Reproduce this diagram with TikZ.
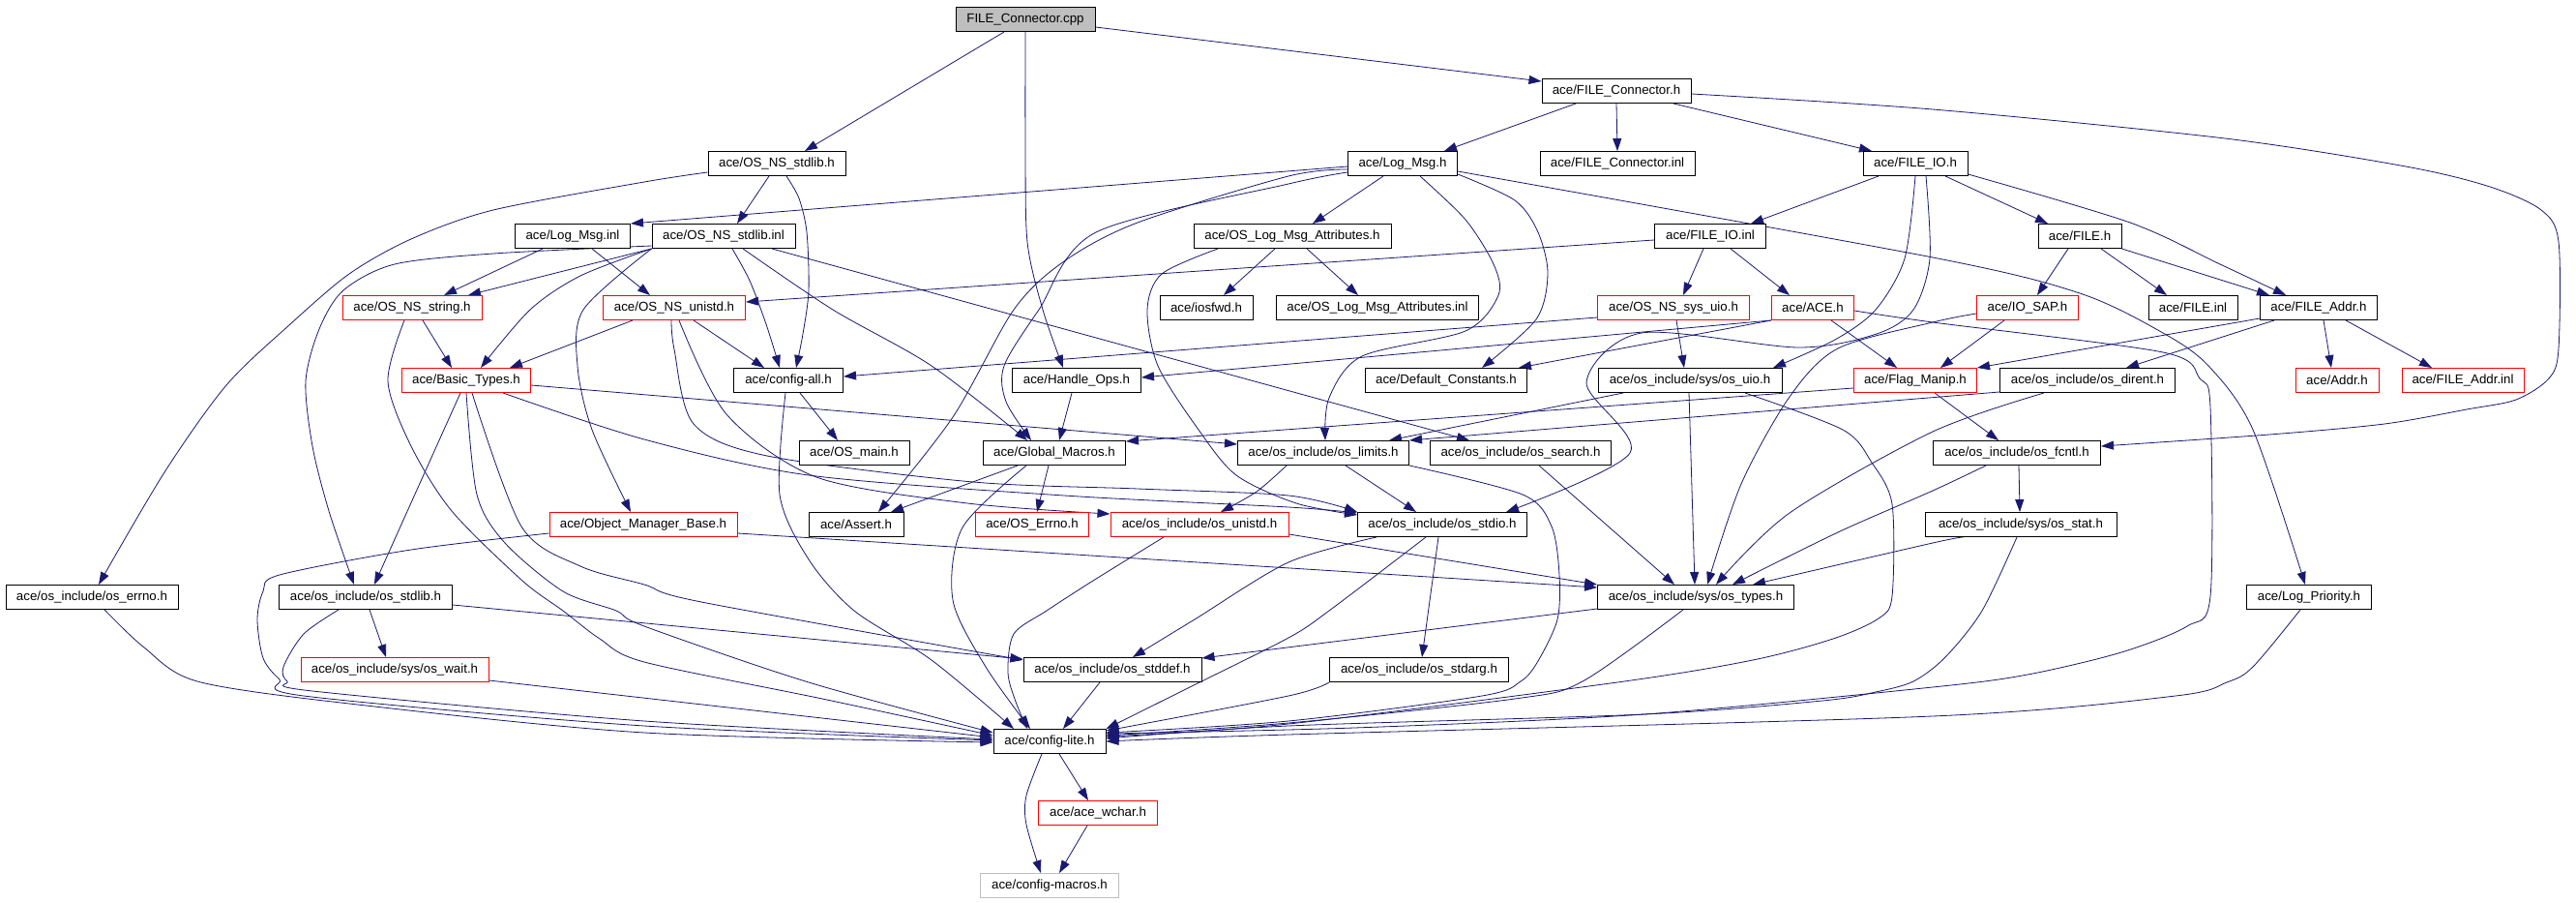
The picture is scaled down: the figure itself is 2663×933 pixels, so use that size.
\documentclass[tikz,border=0pt]{standalone}
\usepackage{fontspec}
\setmainfont{Liberation Sans}
\usetikzlibrary{arrows.meta}
\definecolor{edgeblue}{HTML}{191970}
\definecolor{rootgrey}{HTML}{BFBFBF}
\definecolor{lightgrey}{HTML}{BFBFBF}
\pgfdeclarelayer{bg}
\pgfdeclarelayer{edges}
\pgfsetlayers{bg,edges,main}
\begin{document}
\begin{tikzpicture}[x=1pt,y=-1pt,
  nd/.style={draw=black, line width=1pt, fill=white, inner sep=0pt, minimum height=25pt, font=\fontsize{13.3}{15}\selectfont},
  rd/.style={nd, draw=red},
  e/.style={draw=edgeblue, line width=0.8pt, -{Triangle[length=13pt,width=9pt]}},
]
\useasboundingbox (0,0) rectangle (2663,933);
% nodes
\node[nd, fill=rootgrey, minimum width=144pt] (cpp) at (1060,20) {FILE\_Connector.cpp};
\node[nd, minimum width=154pt] (fch) at (1671,94) {ace/FILE\_Connector.h};
\node[nd, minimum width=142pt] (nsstdlibh) at (803,169) {ace/OS\_NS\_stdlib.h};
\node[nd, minimum width=113pt] (logmsgh) at (1450,169) {ace/Log\_Msg.h};
\node[nd, minimum width=160pt] (fcinl) at (1672,169) {ace/FILE\_Connector.inl};
\node[nd, minimum width=108pt] (fileioh) at (1980,169) {ace/FILE\_IO.h};
\node[nd, minimum width=119pt] (logmsginl) at (592,244) {ace/Log\_Msg.inl};
\node[nd, minimum width=148pt] (nsstdlibinl) at (748,244) {ace/OS\_NS\_stdlib.inl};
\node[nd, minimum width=204pt] (logattrh) at (1336,244) {ace/OS\_Log\_Msg\_Attributes.h};
\node[nd, minimum width=115pt] (fileioinl) at (1768,244) {ace/FILE\_IO.inl};
\node[nd, minimum width=86pt] (fileh) at (2150,244) {ace/FILE.h};
\node[rd, minimum width=144pt] (nsstring) at (426,318) {ace/OS\_NS\_string.h};
\node[rd, minimum width=147pt] (nsunistd) at (697,318) {ace/OS\_NS\_unistd.h};
\node[nd, minimum width=96pt] (iosfwd) at (1247,318) {ace/iosfwd.h};
\node[nd, minimum width=209pt] (logattrinl) at (1424,318) {ace/OS\_Log\_Msg\_Attributes.inl};
\node[rd, minimum width=157pt] (nssysuio) at (1730,318) {ace/OS\_NS\_sys\_uio.h};
\node[rd, minimum width=85pt] (aceh) at (1874,318) {ace/ACE.h};
\node[rd, minimum width=105pt] (iosap) at (2096,318) {ace/IO\_SAP.h};
\node[nd, minimum width=92pt] (fileinl) at (2267,318) {ace/FILE.inl};
\node[nd, minimum width=121pt] (fileaddrh) at (2397,318) {ace/FILE\_Addr.h};
\node[rd, minimum width=133pt] (basictypes) at (482,393) {ace/Basic\_Types.h};
\node[nd, minimum width=113pt] (configall) at (815,393) {ace/config-all.h};
\node[nd, minimum width=133pt] (handleops) at (1113,393) {ace/Handle\_Ops.h};
\node[nd, minimum width=167pt] (defconst) at (1495,393) {ace/Default\_Constants.h};
\node[nd, minimum width=190pt] (osuio) at (1747,393) {ace/os\_include/sys/os\_uio.h};
\node[rd, minimum width=127pt] (flagmanip) at (1980,393) {ace/Flag\_Manip.h};
\node[nd, minimum width=181pt] (osdirent) at (2158,393) {ace/os\_include/os\_dirent.h};
\node[rd, minimum width=86pt] (addrh) at (2416,393) {ace/Addr.h};
\node[rd, minimum width=126pt] (fileaddrinl) at (2546,393) {ace/FILE\_Addr.inl};
\node[nd, minimum width=114pt] (osmain) at (883,468) {ace/OS\_main.h};
\node[nd, minimum width=147pt] (globalmacros) at (1090,468) {ace/Global\_Macros.h};
\node[nd, minimum width=177pt] (oslimits) at (1368,468) {ace/os\_include/os\_limits.h};
\node[nd, minimum width=187pt] (ossearch) at (1572,468) {ace/os\_include/os\_search.h};
\node[nd, minimum width=173pt] (osfcntl) at (2085,468) {ace/os\_include/os\_fcntl.h};
\node[rd, minimum width=194pt] (objmgr) at (665,542) {ace/Object\_Manager\_Base.h};
\node[nd, minimum width=98pt] (assert) at (885,542) {ace/Assert.h};
\node[rd, minimum width=117pt] (oserrno) at (1067,542) {ace/OS\_Errno.h};
\node[rd, minimum width=184pt] (osunistd) at (1240,542) {ace/os\_include/os\_unistd.h};
\node[nd, minimum width=175pt] (osstdio) at (1491,542) {ace/os\_include/os\_stdio.h};
\node[nd, minimum width=198pt] (osstat) at (2089,542) {ace/os\_include/sys/os\_stat.h};
\node[nd, minimum width=178pt] (oserrnoh) at (95,617) {ace/os\_include/os\_errno.h};
\node[nd, minimum width=179pt] (osstdlib) at (378,617) {ace/os\_include/os\_stdlib.h};
\node[nd, minimum width=203pt] (ostypes) at (1753,617) {ace/os\_include/sys/os\_types.h};
\node[nd, minimum width=129pt] (logprio) at (2387,617) {ace/Log\_Priority.h};
\node[rd, minimum width=194pt] (oswait) at (408,692) {ace/os\_include/sys/os\_wait.h};
\node[nd, minimum width=184pt] (osstddef) at (1150,692) {ace/os\_include/os\_stddef.h};
\node[nd, minimum width=185pt] (osstdarg) at (1467,692) {ace/os\_include/os\_stdarg.h};
\node[nd, minimum width=116pt] (configlite) at (1085,766) {ace/config-lite.h};
\node[rd, minimum width=123pt] (acewchar) at (1135,840) {ace/ace\_wchar.h};
\node[nd, draw=lightgrey, minimum width=143pt] (configmacros) at (1085,915) {ace/config-macros.h};

\begin{pgfonlayer}{bg}
\fill[white] (0,0) rectangle (2663,933);
\end{pgfonlayer}

\begin{pgfonlayer}{edges}
% top
\draw[e] (cpp.south -| 1038,0) -- (nsstdlibh.north -| 832,0);
\draw[e] plot[smooth] coordinates {(cpp.south) (1060,150) (1062,250) (1078,320) (handleops.north -| 1099,0)};
\draw[e] (cpp.east |- 0,28) -- (fch.west |- 0,84);
\draw[e] (fch.south -| 1629,0) -- (logmsgh.north -| 1493,0);
\draw[e] (fch.south) -- (fcinl.north);
\draw[e] (fch.south -| 1730,0) -- (fileioh.north -| 1935,0);
\draw[e] plot[smooth] coordinates {(fch.east |- 0,97) (1998,113) (2300,143) (2487,172) (2574,193) (2627,217) (2645,250) (2645,360) (2635,391) (2601,413) (2550,423) (2465,438) (2346,449) (osfcntl.east |- 0,461)};
% OS_NS_stdlib
\draw[e] (nsstdlibh.south -| 795,0) -- (nsstdlibinl.north -| 762,0);
\draw[e] plot[smooth] coordinates {(nsstdlibh.south -| 813,0) (826,205) (834,240) (836,300) (830,345) (configall.north -| 823,0)};
\draw[e] plot[smooth] coordinates {(nsstdlibinl.south -| 757,0) (775,290) (792,335) (configall.north -| 806,0)};
\draw[e] (nsunistd.south -| 717,0) -- (configall.north -| 790,0);
\draw[e] plot[smooth] coordinates {(nsstdlibh.west |- 0,178) (666,188) (510,217) (425,247) (361,283) (300,335) (234,398) (170,488) (oserrnoh.north -| 102,0)};
\draw[e] plot[smooth] coordinates {(nsstdlibinl.west |- 0,254) (510,262) (408,273) (355,300) (330,340) (316,394) (323,461) (340,528) (osstdlib.north -| 366,0)};
% Log_Msg.h
\draw[e] (logmsgh.west |- 0,172) -- (logmsginl.north east);
\draw[e] plot[smooth] coordinates {(logmsgh.west |- 0,175) (1332,182) (1176,230) (1100,270) (1048,320) (985,431) (assert.north -| 908,0)};
\draw[e] plot[smooth] coordinates {(logmsgh.west |- 0,178) (1332,190) (1133,240) (1074,320) (1038,378) (1040,415) (globalmacros.north -| 1066,0)};
\draw[e] (logmsgh.south -| 1430,0) -- (logattrh.north -| 1357,0);
\draw[e] plot[smooth] coordinates {(logmsgh.east |- 0,180) (1566,207) (1590,240) (1600,283) (1588,330) (defconst.north -| 1532,0)};
\draw[e] plot[smooth] coordinates {(logmsgh.south -| 1468,0) (1515,227) (1544,273) (1549,305) (1515,342) (1408,368) (1374,411) (oslimits.north -| 1370,0)};
\draw[e] plot[smooth] coordinates {(logmsgh.east |- 0,177) (1998,266) (2150,303) (2236,344) (2283,378) (2329,444) (logprio.north -| 2383,0)};
% OS_Log_Msg_Attributes
\draw[e] (logattrh.south -| 1318,0) -- (iosfwd.north -| 1265,0);
\draw[e] (logattrh.south -| 1351,0) -- (logattrinl.north -| 1404,0);
\draw[e] plot[smooth] coordinates {(logattrh.south -| 1259,0) (1201,283) (1186,320) (1197,378) (1239,444) (1278,491) (1340,520) (osstdio.west |- 0,532)};
% FILE_IO.h
\draw[e] plot[smooth] coordinates {(fileioh.south -| 1942,0) (1880,205) (fileioinl.north -| 1810,0)};
\draw[e] (fileioh.south -| 2011,0) -- (fileh.north -| 2117,0);
\draw[e] plot[smooth] coordinates {(fileioh.east |- 0,180) (2202,230) (2295,273) (fileaddrh.north -| 2363,0)};
\draw[e] plot[smooth] coordinates {(fileioh.south -| 1980,0) (1969,267) (1939,320) (1897,351) (osuio.north -| 1833,0)};
\draw[e] plot[smooth] coordinates {(fileioh.south -| 1991,0) (1995,267) (1978,320) (1940,345) (1859,359) (1697,344) (1640,395) (1685,468) (osstdio.north -| 1557,0)};
% FILE_IO.inl
\draw[e] (fileioinl.west |- 0,248) -- (nsunistd.east |- 0,312);
\draw[e] (fileioinl.south -| 1761,0) -- (nssysuio.north -| 1740,0);
\draw[e] (fileioinl.south -| 1789,0) -- (aceh.north -| 1850,0);
% FILE.h
\draw[e] (fileh.south -| 2138,0) -- (iosap.north -| 2106,0);
\draw[e] (fileh.south -| 2172,0) -- (fileinl.north -| 2240,0);
\draw[e] (fileh.south east) -- (fileaddrh.north -| 2346,0);
% FILE_Addr.h
\draw[e] (fileaddrh.south -| 2402,0) -- (addrh.north -| 2410,0);
\draw[e] (fileaddrh.south -| 2425,0) -- (fileaddrinl.north -| 2514,0);
\draw[e] (fileaddrh.south -| 2351,0) -- (osdirent.north -| 2198,0);
\draw[e] (fileaddrh.west |- 0,329) -- (flagmanip.north east);
% IO_SAP, ACE
\draw[e] (iosap.south -| 2072,0) -- (flagmanip.north -| 2006,0);
\draw[e] plot[smooth] coordinates {(iosap.west |- 0,324) (1998,333) (1900,360) (1850,410) (1800,500) (ostypes.north -| 1765,0)};
\draw[e] (aceh.south -| 1893,0) -- (flagmanip.north -| 1961,0);
\draw[e] (aceh.south west) -- (defconst.north -| 1570,0);
\draw[e] (aceh.south west) -- (handleops.east |- 0,390);
\draw[e] plot[smooth] coordinates {(aceh.east |- 0,321) (1998,333) (2236,364) (2274,391) (2285,421) (2285,616) (2261,647) (2193,674) (2096,697) (1998,710) (1700,738) (1400,752) (configlite.east |- 0,758)};
\draw[e] (nssysuio.south -| 1733,0) -- (osuio.north -| 1741,0);
\draw[e] (nssysuio.west |- 0,328) -- (configall.east |- 0,389);
% middle left
\draw[e] (nsunistd.south -| 654,0) -- (basictypes.north -| 527,0);
\draw[e] (nsstring.south -| 437,0) -- (basictypes.north -| 467,0);
\draw[e] plot[smooth] coordinates {(nsstdlibinl.south west) (600,285) (548,320) (basictypes.north -| 497,0)};
\draw[e] (nsstdlibinl.south west) -- (nsstring.north -| 484,0);
\draw[e] (logmsginl.south -| 561,0) -- (nsstring.north -| 459,0);
\draw[e] (logmsginl.south -| 612,0) -- (nsunistd.north -| 672,0);
\draw[e] plot[smooth] coordinates {(nsstdlibinl.south -| 768,0) (861,320) (963,378) (globalmacros.north -| 1062,0)};
\draw[e] (nsstdlibinl.south -| 798,0) -- (ossearch.north -| 1519,0);
\draw[e] plot[smooth] coordinates {(nsstdlibinl.south west) (603,320) (597,378) (612,444) (objmgr.north -| 652,0)};
\draw[e] (configall.south -| 827,0) -- (osmain.north -| 866,0);
\draw[e] plot[smooth] coordinates {(configall.south -| 812,0) (806,511) (836,578) (883,631) (963,682) (configlite.north -| 1048,0)};
\draw[e] (handleops.south -| 1108,0) -- (globalmacros.north -| 1095,0);
\draw[e] (globalmacros.south -| 1052,0) -- (assert.north -| 921,0);
\draw[e] (globalmacros.south -| 1084,0) -- (oserrno.north -| 1072,0);
\draw[e] plot[smooth] coordinates {(globalmacros.south -| 1061,0) (995,545) (985,620) (1019,689) (configlite.north -| 1065,0)};
\draw[e] (basictypes.east |- 0,398) -- (oslimits.west |- 0,459);
\draw[e] (basictypes.south -| 476,0) -- (osstdlib.north -| 387,0);
\draw[e] plot[smooth] coordinates {(basictypes.south -| 520,0) (666,454) (836,491) (1100,512) (1332,524) (osstdio.west |- 0,530)};
\draw[e] plot[smooth] coordinates {(nsunistd.south -| 702,0) (751,428) (844,493) (1000,520) (osunistd.west |- 0,531)};
\draw[e] plot[smooth] coordinates {(nsunistd.south -| 694,0) (697,361) (717,438) (793,471) (1006,498) (1176,505) (1332,512) (osstdio.north west)};
\draw[e] plot[smooth] coordinates {(nsstring.south -| 418,0) (401,394) (425,461) (467,528) (540,600) (582,631) (620,660) (666,684) (850,722) (configlite.west |- 0,760)};
\draw[e] plot[smooth] coordinates {(basictypes.south -| 482,0) (493,511) (522,561) (582,611) (637,631) (666,647) (836,705) (configlite.west |- 0,757)};
\draw[e] plot[smooth] coordinates {(basictypes.south -| 488,0) (539,544) (600,585) (666,604) (725,622) (osstddef.west |- 0,682)};
% lower left
\draw[e] plot[smooth] coordinates {(osstdlib.south -| 350,0) (314,655) (293,689) (297,704) (323,714) (666,745) (configlite.west |- 0,764)};
\draw[e] plot[smooth] coordinates {(oserrnoh.south -| 108,0) (149,669) (204,704) (361,727) (666,757) (configlite.west |- 0,767)};
\draw[e] plot[smooth] coordinates {(objmgr.west |- 0,551) (425,568) (289,594) (272,611) (266,640) (272,680) (289,702) (314,719) (666,750) (configlite.west |- 0,765)};
\draw[e] (oswait.east |- 0,703) -- (configlite.west |- 0,762);
\draw[e] (osstdlib.south -| 382,0) -- (oswait.north -| 399,0);
\draw[e] (osstdlib.east |- 0,625) -- (osstddef.west |- 0,681);
\draw[e] (objmgr.east |- 0,551) -- (ostypes.west |- 0,607);
% lower middle
\draw[e] (osunistd.east |- 0,552) -- (ostypes.west |- 0,604);
\draw[e] plot[smooth] coordinates {(osunistd.south -| 1203,0) (1130,600) (1082,631) (1048,655) (1042,695) (1050,725) (configlite.north -| 1062,0)};
\draw[e] plot[smooth] coordinates {(oslimits.south -| 1330,0) (1299,508) (osunistd.north -| 1262,0)};
\draw[e] (oslimits.south -| 1391,0) -- (osstdio.north -| 1464,0);
\draw[e] plot[smooth] coordinates {(oslimits.south east) (1574,511) (1604,544) (1612,594) (1610,640) (1590,683) (1572,704) (1532,719) (1332,745) (configlite.east |- 0,757)};
\draw[e] (ossearch.south -| 1591,0) -- (ostypes.north -| 1731,0);
\draw[e] plot[smooth] coordinates {(osstdio.south -| 1423,0) (1332,581) (1235,640) (osstddef.north -| 1171,0)};
\draw[e] (ostypes.west |- 0,629) -- (osstddef.east |- 0,680);
\draw[e] (osstdio.south -| 1487,0) -- (osstdarg.north -| 1470,0);
\draw[e] plot[smooth] coordinates {(osstdio.south -| 1474,0) (1374,631) (1332,659) (1230,710) (configlite.east |- 0,753)};
\draw[e] plot[smooth] coordinates {(osstdarg.south west) (1332,719) (configlite.east |- 0,755)};
\draw[e] (osstddef.south -| 1137,0) -- (configlite.north -| 1099,0);
\draw[e] plot[smooth] coordinates {(ostypes.south -| 1740,0) (1636,704) (1566,722) (1332,747) (configlite.east |- 0,760)};
% right middle
\draw[e] (osuio.south -| 1746,0) -- (ostypes.north -| 1752,0);
\draw[e] plot[smooth] coordinates {(osuio.south -| 1804,0) (1905,444) (1935,478) (1956,521) (1956,616) (1942,639) (1895,660) (1812,682) (1672,705) (1332,748) (configlite.east |- 0,761)};
\draw[e] (osuio.south -| 1678,0) -- (oslimits.north -| 1436,0);
\draw[e] (osdirent.west |- 0,405) -- (oslimits.north east);
\draw[e] plot[smooth] coordinates {(osdirent.south -| 2113,0) (1998,446) (1850,530) (ostypes.north -| 1774,0)};
\draw[e] (flagmanip.west |- 0,401) -- (globalmacros.east |- 0,456);
\draw[e] (flagmanip.south -| 2000,0) -- (osfcntl.north -| 2066,0);
\draw[e] (osfcntl.south -| 2087,0) -- (osstat.north -| 2088,0);
\draw[e] plot[smooth] coordinates {(osfcntl.south -| 2053,0) (1998,507) (1900,550) (ostypes.north -| 1791,0)};
\draw[e] plot[smooth] coordinates {(osstat.south -| 2030,0) (1998,561) (ostypes.north -| 1812,0)};
\draw[e] plot[smooth] coordinates {(osstat.south -| 2085,0) (2049,631) (2011,679) (1978,704) (1939,715) (1884,724) (1700,738) (1332,750) (configlite.east |- 0,763)};
\draw[e] plot[smooth] coordinates {(logprio.south -| 2378,0) (2329,689) (2302,705) (2249,719) (1998,740) (1332,759) (configlite.east |- 0,766)};
% bottom
\draw[e] (configlite.south -| 1095,0) -- (acewchar.north -| 1125,0);
\draw[e] plot[smooth] coordinates {(configlite.south -| 1077,0) (1061,822) (1061,852) (configmacros.north -| 1076,0)};
\draw[e] (acewchar.south -| 1124,0) -- (configmacros.north -| 1095,0);
\end{pgfonlayer}
\end{tikzpicture}
\end{document}
